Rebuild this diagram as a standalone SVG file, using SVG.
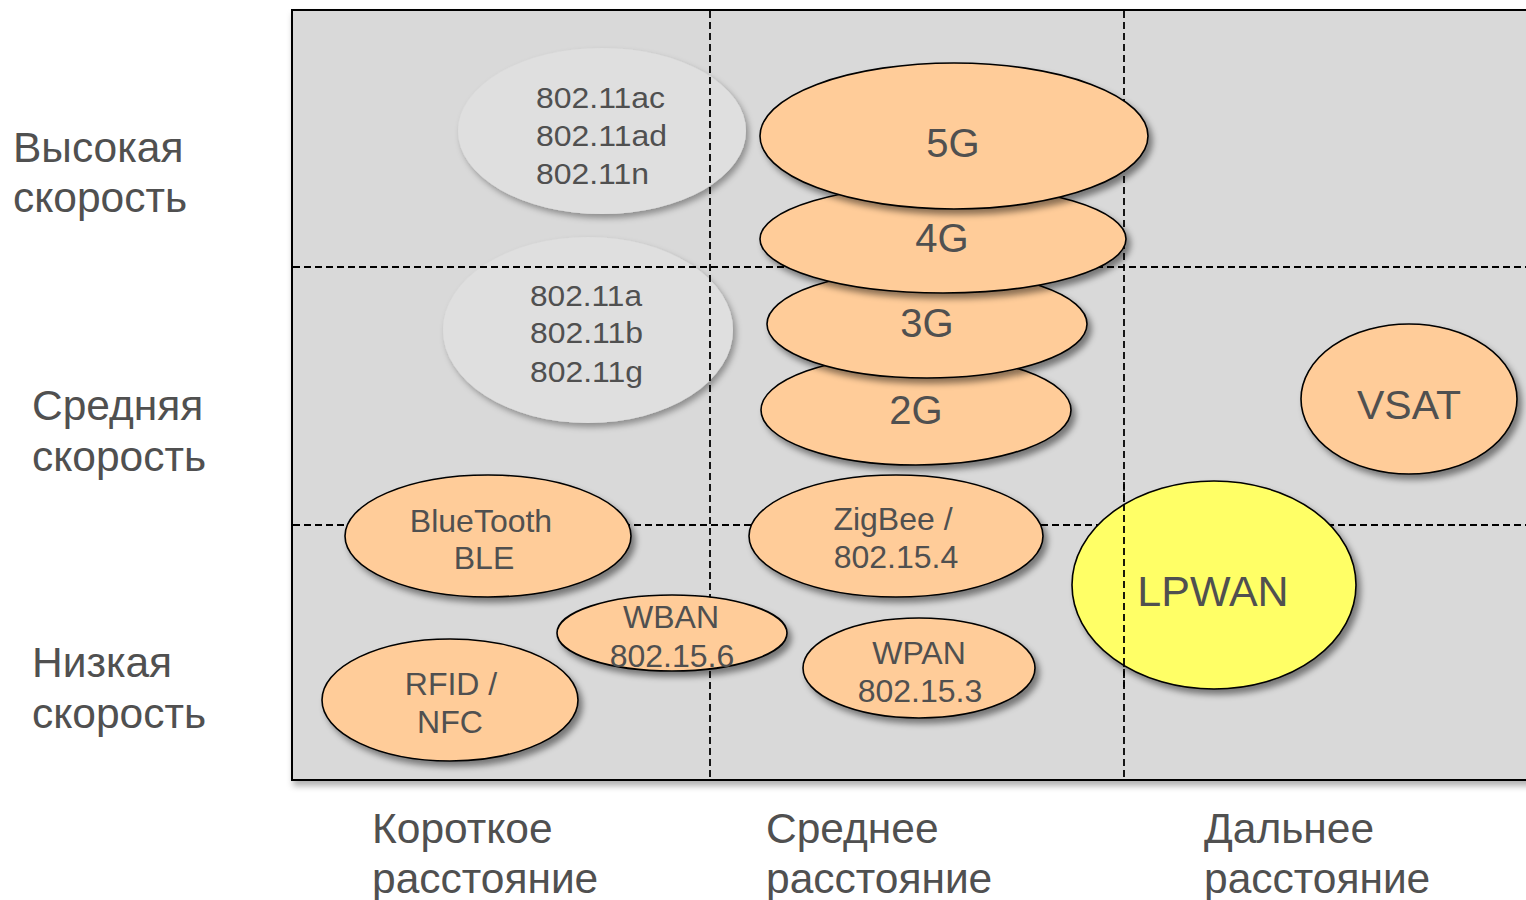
<svg xmlns="http://www.w3.org/2000/svg" width="1526" height="900" viewBox="0 0 1526 900">
<defs>
<filter id="sh" x="-20%" y="-20%" width="150%" height="150%">
<feDropShadow dx="4" dy="5" stdDeviation="3" flood-color="#000" flood-opacity="0.45"/>
</filter>
<filter id="shs" x="-20%" y="-20%" width="150%" height="150%">
<feDropShadow dx="3" dy="4" stdDeviation="3" flood-color="#000" flood-opacity="0.35"/>
</filter>
<filter id="fsh" x="-5%" y="-5%" width="110%" height="110%">
<feDropShadow dx="2" dy="5" stdDeviation="3" flood-color="#000" flood-opacity="0.3"/>
</filter>
</defs>
<style>
text{font-family:"Liberation Sans",Arial,sans-serif;fill:#505050}
.lbl{font-size:42.5px}
.t30{font-size:32px;text-anchor:middle}
.t28{font-size:29px}
.tg{font-size:40px;text-anchor:middle}
.or{fill:#ffcc99;stroke:#000;stroke-width:1.6;filter:url(#sh)}
.gr{fill:#dfdfdf;stroke:none;filter:url(#shs)}
.dash{stroke:#000;stroke-width:1.8;stroke-dasharray:7 4;fill:none}
</style>
<rect id="frame" x="292" y="10" width="1250" height="770" fill="#d9d9d9" stroke="#000" stroke-width="2" filter="url(#fsh)"/>

<g id="wifi-high">
<ellipse class="gr" cx="602" cy="131" rx="144" ry="83"/>
<text class="t28" x="536" y="108" textLength="129" lengthAdjust="spacingAndGlyphs">802.11ac</text>
<text class="t28" x="536" y="146" textLength="131" lengthAdjust="spacingAndGlyphs">802.11ad</text>
<text class="t28" x="536" y="184" textLength="113" lengthAdjust="spacingAndGlyphs">802.11n</text>
</g>
<g id="wifi-mid">
<ellipse class="gr" cx="588" cy="330" rx="145" ry="93"/>
<text class="t28" x="530" y="306" textLength="112" lengthAdjust="spacingAndGlyphs">802.11a</text>
<text class="t28" x="530" y="343" textLength="113" lengthAdjust="spacingAndGlyphs">802.11b</text>
<text class="t28" x="530" y="382" textLength="113" lengthAdjust="spacingAndGlyphs">802.11g</text>
</g>

<g id="grid">
<line class="dash" x1="710" y1="11" x2="710" y2="779"/>
<line class="dash" x1="1124" y1="11" x2="1124" y2="779"/>
<line class="dash" x1="293" y1="267" x2="1526" y2="267"/>
<line class="dash" x1="293" y1="525" x2="1526" y2="525"/>
</g>

<g id="n2g"><ellipse class="or" cx="916" cy="410" rx="155" ry="55"/><text class="tg" x="916" y="424">2G</text></g>
<g id="n3g"><ellipse class="or" cx="927" cy="324" rx="160" ry="54"/><text class="tg" x="927" y="337">3G</text></g>
<g id="n4g"><ellipse class="or" cx="943" cy="239" rx="183" ry="54"/><text class="tg" x="942" y="252">4G</text></g>
<g id="n5g"><ellipse class="or" cx="954" cy="136" rx="194" ry="73"/><text class="tg" x="953" y="157">5G</text></g>

<g id="bluetooth"><ellipse class="or" cx="488" cy="536" rx="143" ry="61"/>
<text class="t30" x="481" y="532">BlueTooth</text><text class="t30" x="484" y="569">BLE</text></g>
<g id="wban"><ellipse class="or" cx="672" cy="633" rx="115" ry="38"/>
<text class="t30" x="671" y="628">WBAN</text><text class="t30" x="672" y="667">802.15.6</text></g>
<g id="rfid"><ellipse class="or" cx="450" cy="700" rx="128" ry="61"/>
<text class="t30" x="451" y="695">RFID /</text><text class="t30" x="450" y="733">NFC</text></g>
<g id="zigbee"><ellipse class="or" cx="896" cy="536" rx="147" ry="61"/>
<text class="t30" x="893" y="530">ZigBee /</text><text class="t30" x="896" y="568">802.15.4</text></g>
<g id="wpan"><ellipse class="or" cx="919" cy="668" rx="116" ry="50"/>
<text class="t30" x="919" y="664">WPAN</text><text class="t30" x="920" y="702">802.15.3</text></g>
<g id="vsat"><ellipse class="or" cx="1409" cy="399" rx="108" ry="75"/>
<text class="tg" x="1409" y="419" style="font-size:41px">VSAT</text></g>
<g id="lpwan"><ellipse class="or" style="fill:#ffff66" cx="1214" cy="585" rx="142" ry="104"/>
<line class="dash" x1="1124" y1="482" x2="1124" y2="688"/>
<text x="1213" y="606" style="font-size:43px;text-anchor:middle">LPWAN</text></g>

<g id="labels">
<text class="lbl" x="13" y="162">Высокая</text>
<text class="lbl" x="13" y="212">скорость</text>
<text class="lbl" x="32" y="420">Средняя</text>
<text class="lbl" x="32" y="471">скорость</text>
<text class="lbl" x="32" y="677">Низкая</text>
<text class="lbl" x="32" y="728">скорость</text>
<text class="lbl" x="372" y="843">Короткое</text>
<text class="lbl" x="372" y="893">расстояние</text>
<text class="lbl" x="766" y="843">Среднее</text>
<text class="lbl" x="766" y="893">расстояние</text>
<text class="lbl" x="1204" y="843">Дальнее</text>
<text class="lbl" x="1204" y="893">расстояние</text>
</g>
</svg>
